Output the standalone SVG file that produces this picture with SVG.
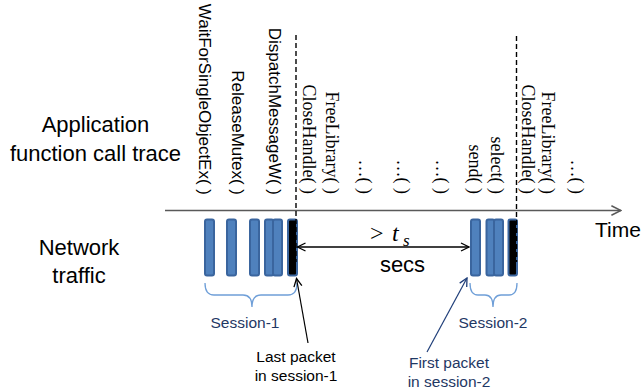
<svg xmlns="http://www.w3.org/2000/svg" width="642" height="391" viewBox="0 0 642 391">
<defs>
<style>
.sans{font-family:"Liberation Sans",Arial,sans-serif;fill:#000}
.serif{font-family:"Liberation Serif","Times New Roman",serif;fill:#000}
.call{font-size:17px;text-anchor:end}
.calls{font-size:18px;text-anchor:end}
.pkt{fill:#4f81bd;stroke:#3a659e;stroke-width:2}
.last{fill:#000;stroke:#3a659e;stroke-width:2}
.dash{stroke:#000;stroke-width:1.4;stroke-dasharray:5,3;fill:none}
.brace{fill:none;stroke:#6f9fd8;stroke-width:1.3}
.blue{fill:#1f3864}
</style>
<marker id="open" viewBox="0 0 10 10" refX="9" refY="5" markerWidth="10" markerHeight="10" markerUnits="userSpaceOnUse" orient="auto-start-reverse">
<path d="M1,1 L9,5 L1,9" fill="none" stroke="context-stroke" stroke-width="1.3"/>
</marker>
<marker id="openb" viewBox="0 0 10 10" refX="9" refY="5" markerWidth="10" markerHeight="10" markerUnits="userSpaceOnUse" orient="auto-start-reverse">
<path d="M1,1 L9,5 L1,9" fill="none" stroke="#000" stroke-width="1.3"/>
</marker>
<marker id="openn" viewBox="0 0 10 10" refX="9" refY="5" markerWidth="10" markerHeight="10" markerUnits="userSpaceOnUse" orient="auto">
<path d="M1,1 L9,5 L1,9" fill="none" stroke="#1f3e79" stroke-width="1.3"/>
</marker>
<marker id="openg" viewBox="0 0 10 10" refX="9" refY="5" markerWidth="12" markerHeight="12" markerUnits="userSpaceOnUse" orient="auto">
<path d="M1,1 L9,5 L1,9" fill="none" stroke="#595959" stroke-width="1.3"/>
</marker>
</defs>

<g id="labels">
<text class="sans" font-size="22" text-anchor="middle" x="95.5" y="132">Application</text>
<text class="sans" font-size="22" text-anchor="middle" x="95.5" y="161">function call trace</text>
<text class="sans" font-size="22" text-anchor="middle" x="79" y="255">Network</text>
<text class="sans" font-size="22" text-anchor="middle" x="79" y="283">traffic</text>
<text class="sans" font-size="21" x="595" y="237">Time</text>
</g>

<g id="calls">
<text class="sans call" transform="translate(199,195) rotate(90)">WaitForSingleObjectEx( )</text>
<text class="sans call" transform="translate(232,195) rotate(90)">ReleaseMutex( )</text>
<text class="sans call" transform="translate(269,195) rotate(90)">DispatchMessageW( )</text>
<text class="serif calls" transform="translate(302.5,194) rotate(90)">CloseHandle( )</text>
<text class="serif calls" transform="translate(325.5,194) rotate(90)">FreeLibrary( )</text>
<text class="serif calls" transform="translate(358.5,194) rotate(90)">…( )</text>
<text class="serif calls" transform="translate(397,194) rotate(90)">…( )</text>
<text class="serif calls" transform="translate(435.5,194) rotate(90)">…( )</text>
<text class="serif calls" transform="translate(469,194) rotate(90)">send( )</text>
<text class="serif calls" transform="translate(490.5,194) rotate(90)">select( )</text>
<text class="serif calls" transform="translate(521.5,194) rotate(90)">CloseHandle( )</text>
<text class="serif calls" transform="translate(541.5,194) rotate(90)">FreeLibrary( )</text>
<text class="serif calls" transform="translate(570.5,194) rotate(90)">…( )</text>
</g>

<g id="packets">
<rect class="pkt" x="205" y="219.5" width="9" height="56" rx="2"/>
<rect class="pkt" x="227" y="219.5" width="9" height="56" rx="2"/>
<rect class="pkt" x="250" y="219.5" width="9" height="56" rx="2"/>
<rect class="pkt" x="265" y="219.5" width="8.5" height="56" rx="2"/>
<rect class="pkt" x="273" y="219.5" width="9" height="56" rx="2"/>
<rect class="last" x="288" y="219.5" width="9" height="56" rx="2"/>
<rect class="pkt" x="471" y="219.5" width="9" height="56" rx="2"/>
<rect class="pkt" x="486.5" y="219.5" width="8" height="56" rx="2"/>
<rect class="pkt" x="494" y="219.5" width="9" height="56" rx="2"/>
<rect class="last" x="508.5" y="219.5" width="8.5" height="56" rx="2"/>
</g>

<g id="connectors">
<line x1="165" y1="210.5" x2="621" y2="210.5" stroke="#595959" stroke-width="1.5" marker-end="url(#openg)"/>
<line class="dash" x1="296" y1="35" x2="296" y2="262"/>
<line class="dash" x1="516.5" y1="36" x2="516.5" y2="262"/>
<line x1="297.5" y1="247" x2="469" y2="247" stroke="#000" stroke-width="1.3" marker-start="url(#openb)" marker-end="url(#openb)"/>
<path class="brace" d="M205,283 Q205,295 214,295 L243,295 Q252,295 252,307 Q252,295 261,295 L288,295 Q297,295 297,283"/>
<path class="brace" d="M470,283 Q470,295 478,295 L485,295 Q493,295 493,307 Q493,295 501,295 L509,295 Q517,295 517,283"/>
<line x1="308" y1="343" x2="296.5" y2="278.5" stroke="#000" stroke-width="1.2" marker-end="url(#openb)"/>
<line x1="427" y1="352" x2="467" y2="278" stroke="#1f3e79" stroke-width="1.2" marker-end="url(#openn)"/>
</g>

<g id="gap">
<text class="serif" font-size="24" x="370" y="241">&gt;</text>
<text class="serif" font-size="24" font-style="italic" x="392" y="241">t</text>
<text class="serif" font-size="17" font-style="italic" x="403" y="246">s</text>
<text class="sans" font-size="22" text-anchor="middle" x="402.5" y="272">secs</text>
</g>

<g id="sessions">
<text class="sans blue" font-size="15.5" text-anchor="middle" x="245" y="328">Session-1</text>
<text class="sans blue" font-size="15.5" text-anchor="middle" x="493" y="328">Session-2</text>
<text class="sans" font-size="15.5" text-anchor="middle" x="296" y="362">Last packet</text>
<text class="sans" font-size="15.5" text-anchor="middle" x="296" y="381">in session-1</text>
<text class="sans blue" font-size="15.5" text-anchor="middle" x="449" y="368">First packet</text>
<text class="sans blue" font-size="15.5" text-anchor="middle" x="449" y="387">in session-2</text>
</g>
</svg>
